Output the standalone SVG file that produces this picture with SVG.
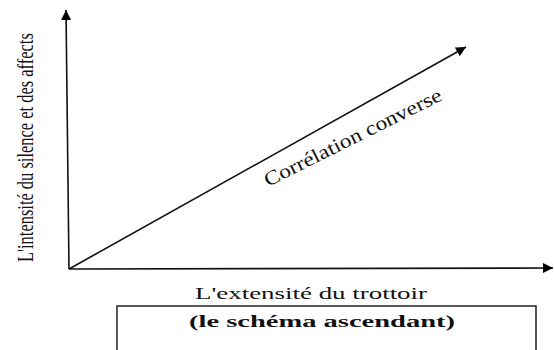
<svg xmlns="http://www.w3.org/2000/svg" width="554" height="350" viewBox="0 0 554 350">
  <defs>
    <marker id="arrow" markerUnits="userSpaceOnUse" markerWidth="12" markerHeight="12" refX="10" refY="5" orient="auto">
      <path d="M0,0 L10,5 L0,10 Z" fill="#000"/>
    </marker>
    <style>
      .axis { stroke: #111; stroke-width: 1.6; fill: none; }
      .lbl { font-family: "Liberation Serif", "Times New Roman", serif; fill: #111; }
    </style>
  </defs>
  <rect width="554" height="350" fill="#fff"/>
  <g id="connectors">
    <line class="axis" x1="69" y1="269" x2="66" y2="10" marker-end="url(#arrow)"/>
    <line class="axis" x1="69" y1="269" x2="553" y2="268" marker-end="url(#arrow)"/>
    <line class="axis" x1="69" y1="269" x2="466" y2="47" marker-end="url(#arrow)"/>
  </g>
  <g id="y-label">
    <text class="lbl" transform="translate(33,262) rotate(-90) scale(0.715,1)" font-size="23" textLength="320" lengthAdjust="spacingAndGlyphs">L'intensité du silence et des affects</text>
  </g>
  <g id="diag-label">
    <text class="lbl" transform="translate(268,187) rotate(-26.5)" font-size="20" textLength="196" lengthAdjust="spacingAndGlyphs">Corrélation converse</text>
  </g>
  <g id="x-label">
    <text class="lbl" x="195" y="299" font-size="16" textLength="232" lengthAdjust="spacingAndGlyphs">L'extensité du trottoir</text>
  </g>
  <g id="caption-box">
    <rect x="117" y="306" width="419" height="60" fill="none" stroke="#222" stroke-width="1.5"/>
    <text class="lbl" x="189" y="327" font-size="17" font-weight="bold" textLength="266" lengthAdjust="spacingAndGlyphs">(le schéma ascendant)</text>
  </g>
</svg>
